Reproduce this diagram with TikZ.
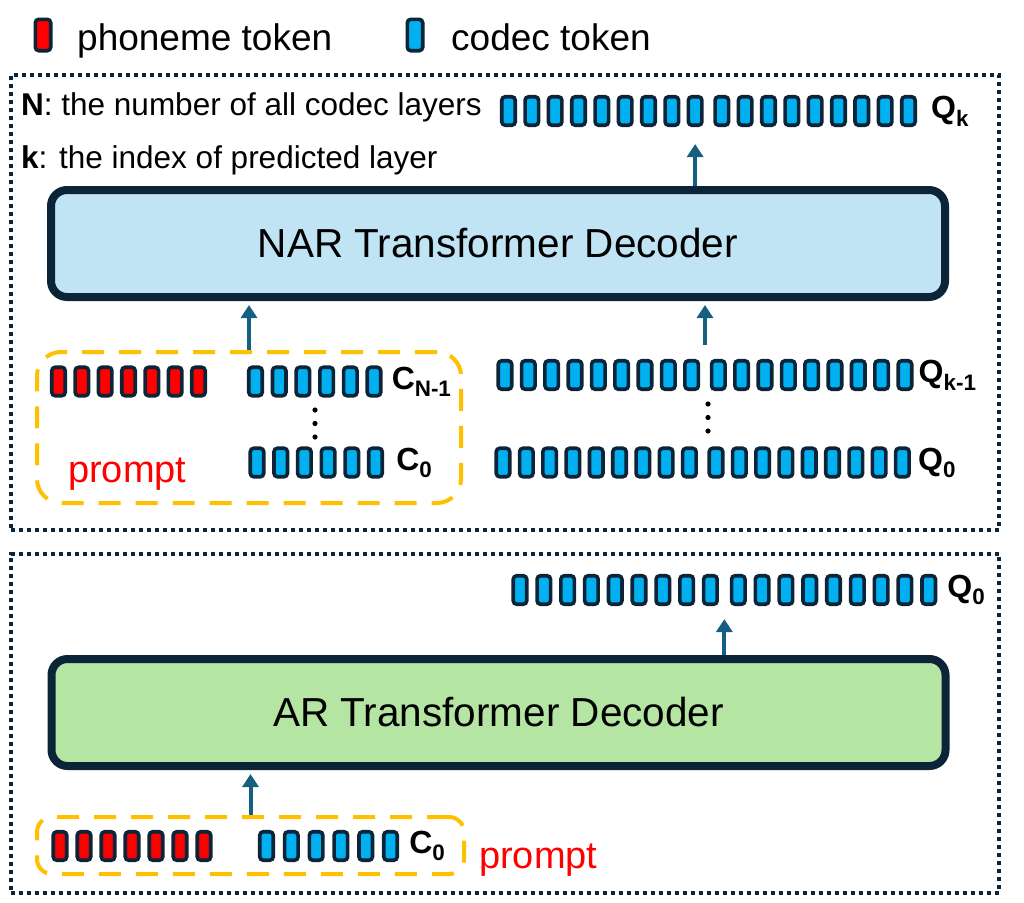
\documentclass[tikz,border=0pt]{standalone}
\usepackage{fontspec}
\setmainfont{Liberation Sans}
\usetikzlibrary{arrows.meta,positioning,calc}

\definecolor{navy}{HTML}{0B2437}
\definecolor{codecblue}{HTML}{00B0F0}
\definecolor{phonred}{HTML}{FF0000}
\definecolor{arrowteal}{HTML}{156082}
\definecolor{narfill}{HTML}{C1E4F5}
\definecolor{arfill}{HTML}{B4E5A2}
\definecolor{promptorange}{HTML}{FFC000}

\begin{document}
\begin{tikzpicture}[x=1pt,y=-1pt,
  tok/.style={draw=navy,line width=3.6pt,rounded corners=3.5pt,inner sep=0pt,minimum width=13.5pt,minimum height=28.5pt},
  ctok/.style={tok,fill=codecblue},
  ptok/.style={tok,fill=phonred},
  bigtok/.style={minimum width=15.4pt,minimum height=31.4pt},
  dec/.style={draw=navy,line width=8pt,rounded corners=16pt,minimum width=894pt,minimum height=107pt,inner sep=0pt,font=\fontsize{40.5}{44}\selectfont},
  dotbox/.style={draw=navy,line width=4pt,dash pattern=on 4pt off 4pt,inner sep=0pt,minimum width=988pt},
  prm/.style={draw=promptorange,line width=4pt,dash pattern=on 22pt off 15pt,inner sep=0pt},
  prmtxt/.style={text=phonred,font=\fontsize{38}{40}\selectfont,inner sep=0pt,anchor=base west},
  arr/.style={-{Triangle[width=16pt,length=13pt]},line width=4pt,draw=arrowteal},
  lab/.style={font=\fontsize{32}{34}\selectfont\bfseries,inner sep=0pt},
  note/.style={font=\fontsize{31.5}{34}\selectfont,inner sep=0pt,anchor=base west},
  leg/.style={font=\fontsize{37}{40}\selectfont,inner sep=0pt,anchor=base west}]
\useasboundingbox (0,0) rectangle (1024,902);

% legend
\node[ptok,bigtok] (legp) at (43,35) {};
\node[leg] (legptext) at (77,50) {phoneme token};
\node[ctok,bigtok] (legc) at (415,35) {};
\node[leg] (legctext) at (451,50) {codec token};

% frames
\node[dotbox,minimum height=455pt] (narframe) at (505,302.5) {};
\node[dotbox,minimum height=339.5pt] (arframe) at (505,723.25) {};

% NAR part
\node[note] (nnote) at (21,115) {\textbf{N}: the number of all codec layers};
\node[note] (knote) at (21,168) {\textbf{k}: the index of predicted layer};
\node[dec,fill=narfill] (nar) at (498,243.5) {NAR Transformer Decoder};

\foreach \i in {1,...,18}
  \node[ctok] (qk\i) at ({508.5+23.33*(\i-1)+3.33*(\i>9)},111) {};
\node[lab,right=14pt of qk18] (qklab) {Q\textsubscript{k}};

\node[prm,rounded corners=24pt,minimum width=424pt,minimum height=151pt] (nprompt) at (249,427.5) {};
\foreach \i in {1,...,7}
  \node[ptok] (np\i) at ({58.5+23.33*(\i-1)},381.5) {};
\foreach \i in {1,...,6}
  \node[ctok] (cn\i) at ({255.5+23.7*(\i-1)},381.5) {};
\node[lab,right=9pt of cn6] (cnlab) {C\textsubscript{N-1}};
\foreach \i in {1,...,6}
  \node[ctok] (cz\i) at ({257+23.7*(\i-1)},462.5) {};
\node[lab,right=12pt of cz6] (czlab) {C\textsubscript{0}};
\foreach \yy in {410,423.5,437}
  \fill (315,\yy) circle (2.6pt);
\node[prmtxt] (nprmtxt) at (68,482) {prompt};

\foreach \i in {1,...,18}
  \node[ctok] (qa\i) at ({505+23.33*(\i-1)+3.33*(\i>9)},375) {};
\node[lab,right=5pt of qa18] (qalab) {Q\textsubscript{k-1}};
\foreach \i in {1,...,18}
  \node[ctok] (qz\i) at ({503+23.3*(\i-1)+3.3*(\i>9)},462.5) {};
\node[lab,right=7pt of qz18] (qzlab) {Q\textsubscript{0}};
\foreach \yy in {404,417.5,431}
  \fill (708,\yy) circle (2.6pt);

\coordinate (qin) at ($(qa9.north)!.5!(qa10.north)$);
\draw[arr,shorten >=17pt] (nar.north -| qk9) -- (qk9.south);
\draw[arr,shorten >=4pt] (nprompt.north) -- (nprompt.north |- nar.south);
\draw[arr,shorten <=14pt,shorten >=4pt] (qin) -- (qin |- nar.south);

% AR part
\node[dec,fill=arfill] (ar) at (498.5,712.5) {AR Transformer Decoder};
\foreach \i in {1,...,18}
  \node[ctok] (aq\i) at ({520+23.8*(\i-1)+4.1*(\i>9)},590) {};
\node[lab,right=10pt of aq18] (aqlab) {Q\textsubscript{0}};

\node[prm,rounded corners=15pt,minimum width=427pt,minimum height=57pt] (aprompt) at (250.5,845.5) {};
\foreach \i in {1,...,7}
  \node[ptok] (ap\i) at ({60+24*(\i-1)},846) {};
\foreach \i in {1,...,6}
  \node[ctok] (ac\i) at ({266.5+24.8*(\i-1)},846) {};
\node[lab,right=10pt of ac6] (aclab) {C\textsubscript{0}};
\node[prmtxt] (aprmtxt) at (479,868) {prompt};

\coordinate (ain) at ($(aq9.south)!.5!(aq10.south)$);
\draw[arr,shorten >=13pt] (ain |- ar.north) -- (ain);
\draw[arr,shorten >=4pt] (aprompt.north) -- (aprompt.north |- ar.south);
\end{tikzpicture}
\end{document}
